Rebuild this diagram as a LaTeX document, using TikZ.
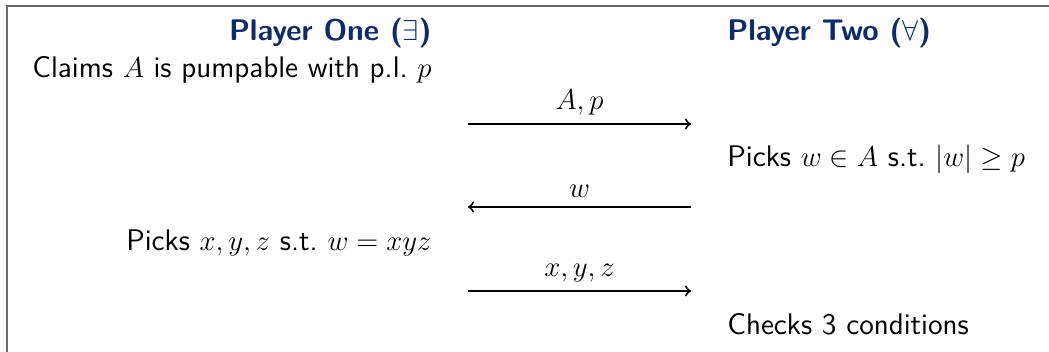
\documentclass[tikz,border=0pt]{standalone}
\usepackage{amssymb}
\definecolor{titleblue}{HTML}{0B2B6E}
\definecolor{framegray}{HTML}{6A6A6A}
\begin{document}
\begin{tikzpicture}[x=0.5pt,y=-0.5pt,
  every node/.style={font=\fontsize{14.9}{17}\sffamily, inner sep=0pt},
  ptitle/.style={font=\fontsize{14.9}{17}\sffamily\bfseries, text=titleblue},
  msg/.style={line width=1pt, ->},
  lbl/.style={above, inner sep=4pt}]
\useasboundingbox (0,0) rectangle (1049,352);
\draw[framegray, line width=1pt] (7,352) -- (7,6) -- (1049,6);
% titles
\node[ptitle, anchor=base east] (p1) at (432,41) {Player One ($\exists$)};
\node[ptitle, anchor=base west] (p2) at (727,41) {Player Two ($\forall$)};
% texts
\node[anchor=base east] (t1) at (432,78) {Claims $A$ is pumpable with p.l.\ $p$};
\node[anchor=base west] (t2) at (727,167) {Picks $w \in A$ s.t.\ $|w| \geq p$};
\node[anchor=base east] (t3) at (432,250) {Picks $x,y,z$ s.t.\ $w = xyz$};
\node[anchor=base west] (t4) at (727,335) {Checks 3 conditions};
% arrow end points
\coordinate (a1l) at (468,124); \coordinate (a1r) at (691,124);
\coordinate (a2l) at (468,207); \coordinate (a2r) at (691,207);
\coordinate (a3l) at (468,291); \coordinate (a3r) at (691,291);
\draw[msg] (a1l) -- node[lbl] (m1) {$A,p$} (a1r);
\draw[msg] (a2r) -- node[lbl] (m2) {$w$} (a2l);
\draw[msg] (a3l) -- node[lbl] (m3) {$x,y,z$} (a3r);
\end{tikzpicture}
\end{document}
